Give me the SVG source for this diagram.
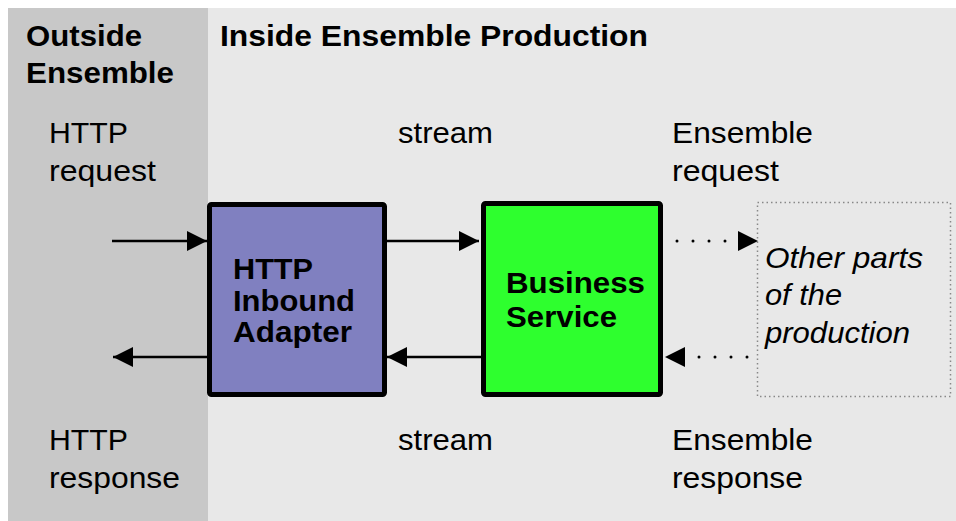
<svg xmlns="http://www.w3.org/2000/svg" width="956" height="521" viewBox="0 0 956 521">
<defs>
<style>
text{font-family:"Liberation Sans",Arial,sans-serif;fill:#000}
.h{font-size:29px;font-weight:bold}
.r{font-size:30px}
.i{font-size:30px;font-style:italic}
.b{font-size:29px;font-weight:bold}
.ln{stroke:#000;stroke-width:2.5;fill:none}
.dt{stroke:#000;stroke-width:3;fill:none;stroke-dasharray:0 16;stroke-linecap:round}
</style>
<marker id="ah" viewBox="0 0 20 20" refX="20" refY="10" markerWidth="20" markerHeight="20" markerUnits="userSpaceOnUse" orient="auto">
<path d="M0,0 L20,10 L0,20 Z" fill="#000"/>
</marker>
</defs>
<rect x="0" y="0" width="956" height="521" fill="#fff"/>
<rect id="outside" x="8" y="8" width="200" height="513" fill="#c8c8c8"/>
<rect id="inside" x="208" y="8" width="748" height="513" fill="#e8e8e8"/>
<g id="headers">
<text class="h" x="26" y="46" textLength="116" lengthAdjust="spacingAndGlyphs">Outside</text>
<text class="h" x="26" y="83" textLength="148" lengthAdjust="spacingAndGlyphs">Ensemble</text>
<text class="h" x="220" y="46" textLength="428" lengthAdjust="spacingAndGlyphs">Inside Ensemble Production</text>
</g>
<g id="labels">
<text class="r" x="49" y="143" textLength="79" lengthAdjust="spacingAndGlyphs">HTTP</text>
<text class="r" x="49" y="181" textLength="107" lengthAdjust="spacingAndGlyphs">request</text>
<text class="r" x="398" y="143" textLength="95" lengthAdjust="spacingAndGlyphs">stream</text>
<text class="r" x="672" y="143" textLength="141" lengthAdjust="spacingAndGlyphs">Ensemble</text>
<text class="r" x="672" y="181" textLength="107" lengthAdjust="spacingAndGlyphs">request</text>
<text class="r" x="49" y="450" textLength="79" lengthAdjust="spacingAndGlyphs">HTTP</text>
<text class="r" x="49" y="488" textLength="131" lengthAdjust="spacingAndGlyphs">response</text>
<text class="r" x="398" y="450" textLength="95" lengthAdjust="spacingAndGlyphs">stream</text>
<text class="r" x="672" y="450" textLength="141" lengthAdjust="spacingAndGlyphs">Ensemble</text>
<text class="r" x="672" y="488" textLength="131" lengthAdjust="spacingAndGlyphs">response</text>
</g>
<g id="adapter">
<rect x="209.5" y="204.5" width="175" height="190" rx="2" fill="#8080c0" stroke="#000" stroke-width="5"/>
<text class="b" x="233" y="279" textLength="80" lengthAdjust="spacingAndGlyphs">HTTP</text>
<text class="b" x="233" y="311" textLength="122" lengthAdjust="spacingAndGlyphs">Inbound</text>
<text class="b" x="233" y="342" textLength="119" lengthAdjust="spacingAndGlyphs">Adapter</text>
</g>
<g id="business">
<rect x="483.5" y="203.5" width="177" height="191" rx="2" fill="#2eff2e" stroke="#000" stroke-width="5"/>
<text class="b" x="506" y="293" textLength="139" lengthAdjust="spacingAndGlyphs">Business</text>
<text class="b" x="506" y="327" textLength="111" lengthAdjust="spacingAndGlyphs">Service</text>
</g>
<g id="other">
<rect x="757.5" y="202.5" width="193" height="194" fill="none" stroke="#888" stroke-width="1.5" stroke-dasharray="1.5 3"/>
<text class="i" x="765" y="268" textLength="158" lengthAdjust="spacingAndGlyphs">Other parts</text>
<text class="i" x="765" y="305" textLength="77" lengthAdjust="spacingAndGlyphs">of the</text>
<text class="i" x="765" y="343" textLength="145" lengthAdjust="spacingAndGlyphs">production</text>
</g>
<g id="connectors">
<line class="ln" x1="112" y1="241" x2="207" y2="241" marker-end="url(#ah)"/>
<line class="ln" x1="387" y1="241" x2="479" y2="241" marker-end="url(#ah)"/>
<line class="ln" x1="482" y1="357" x2="387" y2="357" marker-end="url(#ah)"/>
<line class="ln" x1="207" y1="357" x2="113" y2="357" marker-end="url(#ah)"/>
<line class="dt" x1="677" y1="241" x2="730" y2="241"/>
<path d="M738,231 L758,241 L738,251 Z" fill="#000"/>
<line class="dt" x1="747" y1="357" x2="690" y2="357"/>
<path d="M685,347 L665,357 L685,367 Z" fill="#000"/>
</g>
</svg>
